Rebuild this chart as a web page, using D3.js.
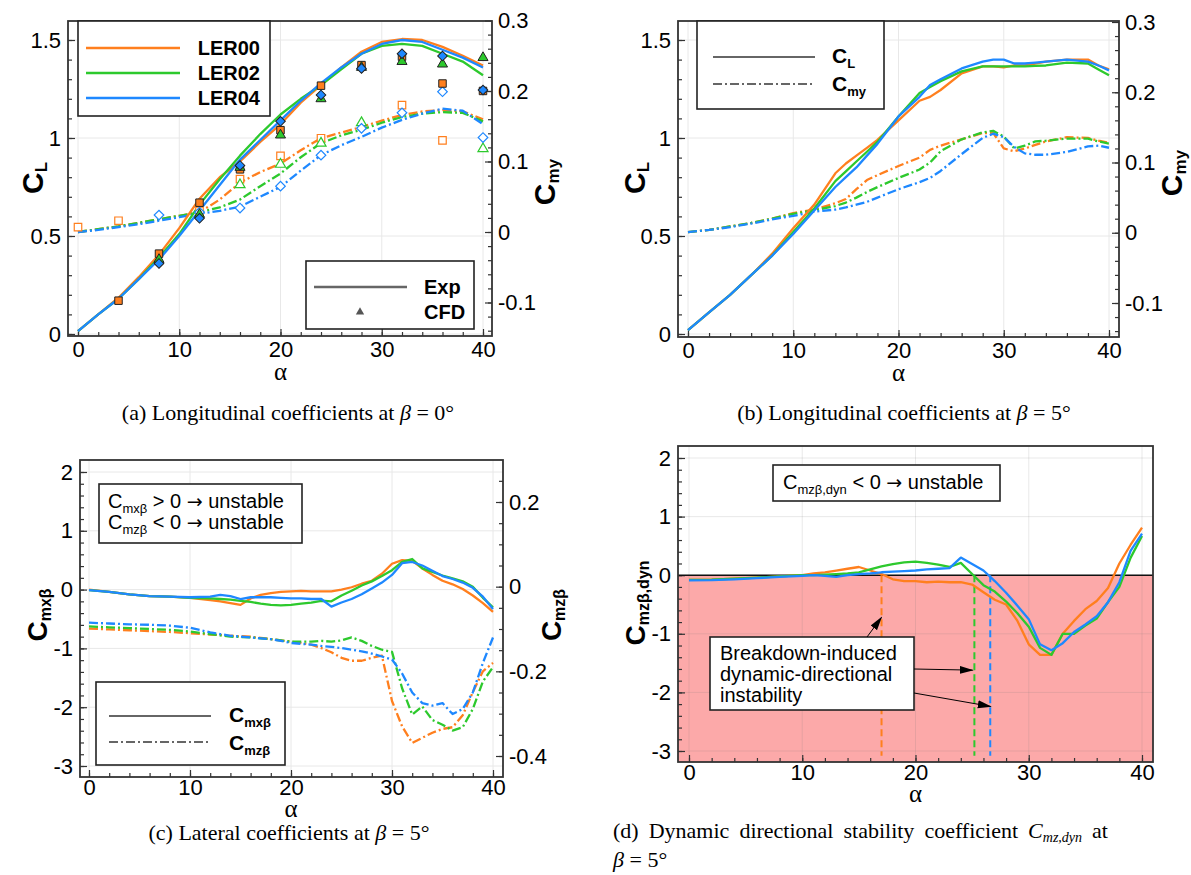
<!DOCTYPE html>
<html>
<head>
<meta charset="utf-8">
<script src="https://cdn.jsdelivr.net/npm/d3@7"></script>
<style>
  body { margin: 0; background: #fff; }
</style>
</head>
<body>
<script>
// colours of the three configurations
const lerNames = ['LER00', 'LER02', 'LER04'];
const lerColors = ['#ff7f1e', '#2dc92d', '#1e88ff'];

// ---- (a) beta = 0 : experiment
const alphaA = [0,2,4,6,8,10,12,14,16,18,20,22,24,26,28,30,32,34,36,38,40];
const clA00 = [0.015,0.10,0.185,0.29,0.405,0.54,0.69,0.80,0.88,0.98,1.07,1.18,1.27,1.36,1.44,1.49,1.505,1.50,1.465,1.42,1.37];
const clA02 = [0.015,0.10,0.18,0.28,0.39,0.51,0.66,0.79,0.91,1.02,1.12,1.20,1.27,1.35,1.43,1.47,1.48,1.47,1.43,1.39,1.32];
const clA04 = [0.015,0.10,0.18,0.28,0.38,0.50,0.63,0.76,0.89,0.99,1.09,1.19,1.28,1.36,1.43,1.48,1.50,1.49,1.45,1.41,1.36];
const cmyA00 = [0.0,0.004,0.008,0.013,0.018,0.023,0.028,0.046,0.07,0.085,0.097,0.116,0.133,0.141,0.149,0.158,0.166,0.171,0.173,0.171,0.160];
const cmyA02 = [0.0,0.004,0.008,0.013,0.018,0.023,0.028,0.035,0.046,0.065,0.083,0.106,0.126,0.137,0.145,0.155,0.163,0.168,0.170,0.169,0.157];
const cmyA04 = [0.0,0.003,0.007,0.011,0.016,0.021,0.026,0.030,0.036,0.050,0.064,0.087,0.109,0.123,0.135,0.148,0.159,0.168,0.175,0.172,0.153];
// (a) CFD points
const cfdAlphaA = [4,8,12,16,20,24,28,32,36,40];
const cfdClA00 = [0.17,0.41,0.67,0.84,1.04,1.267,1.372,1.415,1.278,1.24];
const cfdClA02 = [null,0.38,0.61,0.85,1.015,1.20,1.36,1.39,1.377,1.41];
const cfdClA04 = [null,0.36,0.59,0.86,1.085,1.22,1.355,1.43,1.418,1.245];
const cfdAlphaCmyA = [0,4,8,12,16,20,24,28,32,36,40];
const cfdCmyA00 = [0.007,0.016,null,0.03,0.075,0.108,0.133,null,0.18,0.13,null];
const cfdCmyA02 = [null,null,null,null,0.067,0.096,0.126,0.155,null,null,0.118];
const cfdCmyA04 = [null,null,0.024,0.028,0.034,0.065,0.109,0.147,0.169,0.199,0.134];

// ---- (b) beta = 5 longitudinal
const alphaB = [0,2,4,6,8,10,12,14,15,16,17,18,20,22,23,24,26,28,29,30,31,32,33,34,36,38,39,40];
const clB00 = [0.02,0.11,0.2,0.3,0.41,0.54,0.66,0.82,0.87,0.91,0.95,0.99,1.09,1.19,1.21,1.245,1.33,1.365,1.365,1.36,1.37,1.37,1.38,1.39,1.40,1.40,1.37,1.35];
const clB02 = [0.02,0.11,0.2,0.3,0.40,0.52,0.64,0.78,0.83,0.88,0.93,0.98,1.11,1.23,1.26,1.29,1.34,1.365,1.365,1.365,1.365,1.365,1.368,1.37,1.385,1.38,1.35,1.32];
const clB04 = [0.02,0.11,0.2,0.3,0.40,0.51,0.63,0.75,0.80,0.85,0.91,0.97,1.11,1.21,1.27,1.30,1.355,1.39,1.40,1.40,1.38,1.38,1.385,1.39,1.40,1.39,1.37,1.345];
const cmyB00 = [0.001,0.004,0.009,0.014,0.02,0.028,0.033,0.042,0.048,0.062,0.075,0.082,0.095,0.107,0.118,0.124,0.133,0.142,0.142,0.12,0.116,0.12,0.125,0.13,0.136,0.135,0.131,0.128];
const cmyB02 = [0.001,0.004,0.009,0.014,0.02,0.027,0.032,0.038,0.043,0.05,0.058,0.065,0.078,0.09,0.10,0.116,0.133,0.143,0.145,0.137,0.12,0.124,0.13,0.131,0.134,0.134,0.130,0.127];
const cmyB04 = [0.001,0.004,0.008,0.013,0.019,0.024,0.03,0.033,0.036,0.04,0.044,0.05,0.062,0.072,0.078,0.088,0.112,0.135,0.141,0.136,0.122,0.113,0.111,0.111,0.115,0.123,0.124,0.121];

// ---- (c) beta = 5 lateral
const alphaC = [0,2,4,6,8,10,12,13,14,15,16,17,18,19,20,21,22,23,24,25,26,27,28,29,30,31,32,33,34,35,36,37,38,39,40];
const cmxC00 = [0,-0.04,-0.08,-0.11,-0.12,-0.14,-0.18,-0.20,-0.23,-0.26,-0.15,-0.09,-0.06,-0.04,-0.03,-0.02,-0.03,-0.03,-0.03,0.0,0.04,0.10,0.15,0.27,0.44,0.50,0.49,0.36,0.25,0.15,0.09,0.01,-0.10,-0.23,-0.38];
const cmxC02 = [-0.01,-0.04,-0.08,-0.11,-0.12,-0.14,-0.15,-0.16,-0.17,-0.19,-0.21,-0.24,-0.26,-0.27,-0.26,-0.24,-0.22,-0.19,-0.20,-0.10,-0.02,0.07,0.14,0.23,0.33,0.47,0.52,0.36,0.30,0.24,0.19,0.14,0.05,-0.14,-0.30];
const cmxC04 = [-0.01,-0.04,-0.08,-0.11,-0.12,-0.13,-0.12,-0.09,-0.11,-0.16,-0.13,-0.13,-0.13,-0.14,-0.15,-0.15,-0.16,-0.16,-0.29,-0.22,-0.16,-0.08,0.02,0.12,0.25,0.45,0.47,0.41,0.32,0.23,0.18,0.12,0.03,-0.12,-0.33];
const cmzC00 = [-0.099,-0.101,-0.103,-0.105,-0.107,-0.11,-0.113,-0.114,-0.116,-0.117,-0.118,-0.121,-0.124,-0.127,-0.13,-0.133,-0.137,-0.145,-0.155,-0.168,-0.175,-0.175,-0.168,-0.163,-0.27,-0.33,-0.369,-0.357,-0.345,-0.336,-0.332,-0.304,-0.249,-0.2,-0.18];
const cmzC02 = [-0.094,-0.096,-0.098,-0.1,-0.102,-0.106,-0.112,-0.115,-0.118,-0.119,-0.12,-0.122,-0.124,-0.127,-0.13,-0.13,-0.13,-0.128,-0.13,-0.127,-0.12,-0.128,-0.14,-0.149,-0.154,-0.24,-0.302,-0.283,-0.315,-0.326,-0.34,-0.332,-0.289,-0.224,-0.19];
const cmzC04 = [-0.085,-0.087,-0.089,-0.09,-0.092,-0.097,-0.108,-0.112,-0.116,-0.118,-0.12,-0.122,-0.124,-0.128,-0.133,-0.135,-0.137,-0.14,-0.142,-0.145,-0.149,-0.153,-0.158,-0.165,-0.172,-0.205,-0.25,-0.275,-0.281,-0.275,-0.301,-0.289,-0.25,-0.18,-0.12];

// ---- (d) dynamic directional stability
const alphaD = [0,2,4,6,8,10,11,12,13,14,15,16,17,18,19,20,21,22,23,24,25,26,27,28,29,30,31,32,33,34,35,36,37,38,39,40];
const cdynD00 = [-0.08,-0.075,-0.06,-0.04,-0.02,0.0,0.03,0.05,0.08,0.11,0.14,0.08,0.02,-0.07,-0.10,-0.10,-0.12,-0.11,-0.12,-0.12,-0.16,-0.29,-0.42,-0.50,-0.78,-1.18,-1.36,-1.36,-1.00,-0.78,-0.58,-0.44,-0.22,0.20,0.52,0.81];
const cdynD02 = [-0.08,-0.075,-0.06,-0.04,-0.02,0.0,0.0,0.01,0.02,0.03,0.05,0.10,0.15,0.19,0.22,0.23,0.21,0.18,0.14,0.21,0.02,-0.17,-0.28,-0.45,-0.65,-0.88,-1.24,-1.36,-1.00,-1.00,-0.86,-0.74,-0.46,-0.20,0.30,0.67];
const cdynD04 = [-0.09,-0.085,-0.07,-0.05,-0.03,-0.01,0.0,-0.01,-0.03,0.0,0.02,0.03,0.05,0.06,0.07,0.08,0.10,0.11,0.12,0.30,0.19,0.08,-0.10,-0.30,-0.52,-0.75,-1.18,-1.28,-1.16,-0.97,-0.84,-0.70,-0.46,-0.12,0.42,0.71];
const onsetD = [17.0, 25.2, 26.6];   // zero crossings -> breakdown-induced instability

// x ticks shared by all panels
const alphaTicks = [0, 10, 20, 30, 40];

const sans = '"Liberation Sans", Arial, sans-serif';
const serif = '"Liberation Serif", "Times New Roman", serif';
const arrowFont = '"DejaVu Sans", sans-serif';

const svg = d3.select('body').append('svg')
    .attr('width', 1191)
    .attr('height', 875)
    .attr('font-family', sans);
const defs = svg.append('defs');
defs.append('marker')
    .attr('id', 'arrowhead')
    .attr('markerUnits', 'userSpaceOnUse')
    .attr('markerWidth', 14).attr('markerHeight', 10)
    .attr('refX', 13).attr('refY', 4)
    .attr('orient', 'auto')
    .append('path')
    .attr('d', 'M0,0 L14,4 L0,8 Z')
    .attr('fill', '#000');

const dashDot = '9,3,2,3';

// text with subscript parts: [text, size, dy, weight, style, family]
function rich(sel, parts) {
    parts.forEach(p => {
        const t = sel.append('tspan')
            .attr('font-size', p[1])
            .attr('dy', p[2] || 0)
            .text(p[0]);
        if (p[3]) t.attr('font-weight', p[3]);
        if (p[4]) t.attr('font-style', p[4]);
        if (p[5]) t.attr('font-family', p[5]);
    });
    return sel;
}

function zip(xs, ys) {
    return xs.map((a, i) => [a, ys[i]]).filter(d => d[1] != null);
}

function panel(o) {
    const g = svg.append('g');
    const f = o.frame;
    const x = d3.scaleLinear().domain([0, 40]).range(o.xr);
    const y = d3.scaleLinear().domain(o.yd).range(o.yr);
    const y2 = o.y2d ? d3.scaleLinear().domain(o.y2d).range(o.y2r) : null;

    defs.append('clipPath').attr('id', 'clip' + o.name)
        .append('rect')
        .attr('x', f[0]).attr('y', f[1])
        .attr('width', f[2] - f[0]).attr('height', f[3] - f[1]);

    // optional background fill (unstable region)
    if (o.fillBelowZero) {
        g.append('rect')
            .attr('x', f[0]).attr('y', y(0))
            .attr('width', f[2] - f[0]).attr('height', f[3] - y(0))
            .attr('fill', '#fca9a9');
    }

    // grid
    const grid = g.append('g').attr('stroke', o.fillBelowZero ? 'rgba(120,120,120,0.16)' : '#e8e8e8').attr('stroke-width', 1);
    grid.selectAll('.gx').data(alphaTicks).enter().append('line')
        .attr('x1', d => x(d)).attr('x2', d => x(d))
        .attr('y1', f[1]).attr('y2', f[3]);
    grid.selectAll('.gy').data(o.yMajor).enter().append('line')
        .attr('x1', f[0]).attr('x2', f[2])
        .attr('y1', d => y(d)).attr('y2', d => y(d));

    // axes (ticks pointing inward)
    function styleAxis(sel) {
        sel.select('.domain').remove();
        sel.attr('font-size', 22).attr('font-family', sans);
        sel.selectAll('.tick line').attr('stroke', '#333').attr('stroke-width', 1.2);
        sel.selectAll('.tick text').attr('fill', '#000');
    }
    const visible = (sc, lo, hi) => v => sc(v) < Math.max(lo, hi) - 1.5 && sc(v) > Math.min(lo, hi) + 1.5;
    const minorVals = (sc, step) => {
        const d = [sc.invert(f[3]), sc.invert(f[1])].sort((a, b) => a - b);
        const start = Math.ceil(d[0] / step - 1e-6) * step;
        return d3.range(start, d[1], step).map(v => +v.toFixed(4)).filter(visible(sc, f[1], f[3]));
    };

    g.append('g').attr('transform', `translate(0,${f[3]})`)
        .call(d3.axisBottom(x).tickValues(d3.range(0, 41, 2)).tickSize(-4).tickFormat(''))
        .call(styleAxis);
    g.append('g').attr('transform', `translate(0,${f[3]})`)
        .call(d3.axisBottom(x).tickValues(alphaTicks).tickSize(-7).tickPadding(o.xPad))
        .call(styleAxis);

    g.append('g').attr('transform', `translate(${f[0]},0)`)
        .call(d3.axisLeft(y).tickValues(minorVals(y, o.yMinor)).tickSize(-4).tickFormat(''))
        .call(styleAxis);
    g.append('g').attr('transform', `translate(${f[0]},0)`)
        .call(d3.axisLeft(y).tickValues(o.yMajor).tickSize(-7).tickPadding(7).tickFormat(d => String(d)))
        .call(styleAxis);

    if (y2) {
        g.append('g').attr('transform', `translate(${f[2]},0)`)
            .call(d3.axisRight(y2).tickValues(minorVals(y2, o.y2Minor)).tickSize(-4).tickFormat(''))
            .call(styleAxis);
        g.append('g').attr('transform', `translate(${f[2]},0)`)
            .call(d3.axisRight(y2).tickValues(o.y2Major).tickSize(-7).tickPadding(6).tickFormat(d => String(d)))
            .call(styleAxis);
    }

    const plot = g.append('g').attr('clip-path', `url(#clip${o.name})`);

    // alpha label
    g.append('text')
        .attr('x', x(20)).attr('y', f[3] + o.alphaDy)
        .attr('text-anchor', 'middle')
        .attr('font-family', serif)
        .attr('font-size', 25)
        .text('α');

    return { g, plot, x, y, y2, f };
}

function drawFrame(p) {
    p.g.append('rect')
        .attr('x', p.f[0]).attr('y', p.f[1])
        .attr('width', p.f[2] - p.f[0]).attr('height', p.f[3] - p.f[1])
        .attr('fill', 'none').attr('stroke', '#333').attr('stroke-width', 1.8);
}

function curve(p, sy, xs, ys, color, dash) {
    const line = d3.line().x(d => p.x(d[0])).y(d => sy(d[1]));
    p.plot.append('path')
        .datum(zip(xs, ys))
        .attr('d', line)
        .attr('fill', 'none')
        .attr('stroke', color)
        .attr('stroke-width', 2.3)
        .attr('stroke-linejoin', 'round')
        .attr('stroke-dasharray', dash || null);
}

function yTitle(x, y, parts) {
    const t = svg.append('text')
        .attr('transform', `translate(${x},${y}) rotate(-90)`)
        .attr('text-anchor', 'middle')
        .attr('font-weight', 'bold');
    rich(t, parts);
}

function legendBox(g, x0, y0, x1, y1) {
    g.append('rect')
        .attr('x', x0).attr('y', y0)
        .attr('width', x1 - x0).attr('height', y1 - y0)
        .attr('fill', '#fff').attr('stroke', '#222').attr('stroke-width', 1.6);
}

// ================= panel (a)
const pa = panel({
    name: 'a', frame: [68, 21, 492, 336], xr: [78, 483], xPad: 5, alphaDy: 44,
    yd: [0, 1.5], yr: [334, 40], yMajor: [0, 0.5, 1, 1.5], yMinor: 0.1,
    y2d: [-0.1, 0.3], y2r: [302.5, 20.5], y2Major: [-0.1, 0, 0.1, 0.2, 0.3], y2Minor: 0.02
});
const clA = [clA00, clA02, clA04], cmyA = [cmyA00, cmyA02, cmyA04];
const cfdClA = [cfdClA00, cfdClA02, cfdClA04], cfdCmyA = [cfdCmyA00, cfdCmyA02, cfdCmyA04];
const symbolsA = [d3.symbolSquare, d3.symbolTriangle, d3.symbolSquare];
const symSize = [56, 44, 46];
const symRot = [0, 0, 45];
[0, 1, 2].forEach(i => curve(pa, pa.y2, alphaA, cmyA[i], lerColors[i], dashDot));
[0, 1, 2].forEach(i => curve(pa, pa.y, alphaA, clA[i], lerColors[i]));
[0, 1, 2].forEach(i => {
    pa.plot.selectAll('.open' + i)
        .data(zip(cfdAlphaCmyA, cfdCmyA[i])).enter().append('path')
        .attr('d', d3.symbol().type(symbolsA[i]).size(symSize[i]))
        .attr('transform', d => `translate(${pa.x(d[0])},${pa.y2(d[1])}) rotate(${symRot[i]})`)
        .attr('fill', '#fff').attr('stroke', lerColors[i]).attr('stroke-width', 1.2);
});
[0, 1, 2].forEach(i => {
    pa.plot.selectAll('.fill' + i)
        .data(zip(cfdAlphaA, cfdClA[i])).enter().append('path')
        .attr('d', d3.symbol().type(symbolsA[i]).size(symSize[i]))
        .attr('transform', d => `translate(${pa.x(d[0])},${pa.y(d[1])}) rotate(${symRot[i]})`)
        .attr('fill', lerColors[i]).attr('stroke', '#222').attr('stroke-width', 1);
});
drawFrame(pa);
// LER legend
legendBox(pa.g, 78, 21, 270, 116);
lerNames.forEach((n, i) => {
    const yy = 48 + i * 25;
    pa.g.append('line').attr('x1', 86).attr('x2', 180).attr('y1', yy).attr('y2', yy)
        .attr('stroke', lerColors[i]).attr('stroke-width', 2.5);
    pa.g.append('text').attr('x', 260).attr('y', yy + 7).attr('text-anchor', 'end')
        .attr('font-size', 20).attr('font-weight', 'bold').text(n);
});
// Exp / CFD legend
legendBox(pa.g, 306, 261, 474, 329);
pa.g.append('line').attr('x1', 314).attr('x2', 407).attr('y1', 287).attr('y2', 287)
    .attr('stroke', '#666').attr('stroke-width', 2.5);
pa.g.append('path').attr('d', d3.symbol().type(d3.symbolTriangle).size(30))
    .attr('transform', 'translate(360,312)').attr('fill', '#555');
pa.g.append('text').attr('x', 424).attr('y', 294).attr('font-size', 20).attr('font-weight', 'bold').text('Exp');
pa.g.append('text').attr('x', 424).attr('y', 319).attr('font-size', 20).attr('font-weight', 'bold').text('CFD');
yTitle(43, 178, [['C', 30], ['L', 17, 4]]);
yTitle(555, 182, [['C', 30], ['my', 17, 4]]);

// ================= panel (b)
const pb = panel({
    name: 'b', frame: [678, 21, 1119, 337], xr: [688, 1109], xPad: 5, alphaDy: 44,
    yd: [0, 1.5], yr: [334, 40], yMajor: [0, 0.5, 1, 1.5], yMinor: 0.1,
    y2d: [-0.1, 0.3], y2r: [303, 22], y2Major: [-0.1, 0, 0.1, 0.2, 0.3], y2Minor: 0.02
});
const clB = [clB00, clB02, clB04], cmyB = [cmyB00, cmyB02, cmyB04];
[0, 1, 2].forEach(i => curve(pb, pb.y2, alphaB, cmyB[i], lerColors[i], dashDot));
[0, 1, 2].forEach(i => curve(pb, pb.y, alphaB, clB[i], lerColors[i]));
drawFrame(pb);
legendBox(pb.g, 697, 21, 884, 109);
pb.g.append('line').attr('x1', 713).attr('x2', 815).attr('y1', 57).attr('y2', 57)
    .attr('stroke', '#666').attr('stroke-width', 2);
pb.g.append('line').attr('x1', 713).attr('x2', 815).attr('y1', 84).attr('y2', 84)
    .attr('stroke', '#666').attr('stroke-width', 2).attr('stroke-dasharray', dashDot);
rich(pb.g.append('text').attr('x', 832).attr('y', 63).attr('font-weight', 'bold'), [['C', 21], ['L', 13, 5]]);
rich(pb.g.append('text').attr('x', 832).attr('y', 91).attr('font-weight', 'bold'), [['C', 21], ['my', 13, 5]]);
yTitle(645, 178, [['C', 30], ['L', 17, 4]]);
yTitle(1182, 173, [['C', 30], ['my', 17, 4]]);

// ================= panel (c)
const pc = panel({
    name: 'c', frame: [80, 460, 503, 777], xr: [89, 493], xPad: 2, alphaDy: 40,
    yd: [-3, 2], yr: [766, 472], yMajor: [-3, -2, -1, 0, 1, 2], yMinor: 0.2,
    y2d: [-0.4, 0.2], y2r: [756, 502], y2Major: [-0.4, -0.2, 0, 0.2], y2Minor: 0.05
});
const cmxC = [cmxC00, cmxC02, cmxC04], cmzC = [cmzC00, cmzC02, cmzC04];
[0, 1, 2].forEach(i => curve(pc, pc.y2, alphaC, cmzC[i], lerColors[i], dashDot));
[0, 1, 2].forEach(i => curve(pc, pc.y, alphaC, cmxC[i], lerColors[i]));
drawFrame(pc);
legendBox(pc.g, 99, 484, 302, 543);
rich(pc.g.append('text').attr('x', 108).attr('y', 508),
    [['C', 20], ['mxβ', 13, 5], [' > 0 ', 20, -5], ['→', 19, 0, null, null, arrowFont], [' unstable', 20]]);
rich(pc.g.append('text').attr('x', 108).attr('y', 529),
    [['C', 20], ['mzβ', 13, 5], [' < 0 ', 20, -5], ['→', 19, 0, null, null, arrowFont], [' unstable', 20]]);
legendBox(pc.g, 96, 682, 285, 765);
pc.g.append('line').attr('x1', 109).attr('x2', 211).attr('y1', 716).attr('y2', 716)
    .attr('stroke', '#666').attr('stroke-width', 2);
pc.g.append('line').attr('x1', 109).attr('x2', 211).attr('y1', 742).attr('y2', 742)
    .attr('stroke', '#666').attr('stroke-width', 2).attr('stroke-dasharray', dashDot);
rich(pc.g.append('text').attr('x', 229).attr('y', 722).attr('font-weight', 'bold'), [['C', 21], ['mxβ', 13, 5]]);
rich(pc.g.append('text').attr('x', 229).attr('y', 750).attr('font-weight', 'bold'), [['C', 21], ['mzβ', 13, 5]]);
yTitle(47, 615, [['C', 28], ['mxβ', 16, 4]]);
yTitle(561, 615, [['C', 28], ['mzβ', 16, 4]]);

// ================= panel (d)
const pd = panel({
    name: 'd', frame: [678, 446, 1153, 762], xr: [689, 1142], xPad: 2, alphaDy: 40,
    yd: [-3, 2], yr: [751, 458], yMajor: [-3, -2, -1, 0, 1, 2], yMinor: 0.2,
    fillBelowZero: true
});
pd.plot.append('line')
    .attr('x1', pd.f[0]).attr('x2', pd.f[2])
    .attr('y1', pd.y(0)).attr('y2', pd.y(0))
    .attr('stroke', '#111').attr('stroke-width', 1.6);
const cdynD = [cdynD00, cdynD02, cdynD04];
[0, 1, 2].forEach(i => {
    pd.plot.append('line')
        .attr('x1', pd.x(onsetD[i])).attr('x2', pd.x(onsetD[i]))
        .attr('y1', pd.y(0)).attr('y2', pd.y(-3.08))
        .attr('stroke', lerColors[i]).attr('stroke-width', 2)
        .attr('stroke-dasharray', '7,4');
});
[0, 1, 2].forEach(i => curve(pd, pd.y, alphaD, cdynD[i], lerColors[i]));
drawFrame(pd);
legendBox(pd.g, 773, 465, 1000, 501);
rich(pd.g.append('text').attr('x', 783).attr('y', 489),
    [['C', 20], ['mzβ,dyn', 13, 5], [' < 0 ', 20, -5], ['→', 19, 0, null, null, arrowFont], [' unstable', 20]]);
// annotation
legendBox(pd.g, 710, 637, 914, 710);
['Breakdown-induced', 'dynamic-directional', 'instability'].forEach((t, i) => {
    pd.g.append('text').attr('x', 720).attr('y', 660 + i * 21).attr('font-size', 20).text(t);
});
const arrows = [
    [867, 637, onsetD[0], -0.72],
    [914, 669, onsetD[1] - 0.15, -1.62],
    [914, 693, onsetD[2] + 0.05, -2.24]
];
arrows.forEach(a => {
    pd.g.append('line')
        .attr('x1', a[0]).attr('y1', a[1])
        .attr('x2', pd.x(a[2])).attr('y2', pd.y(a[3]))
        .attr('stroke', '#000').attr('stroke-width', 1)
        .attr('marker-end', 'url(#arrowhead)');
});
yTitle(645, 603, [['C', 28], ['mzβ,dyn', 16, 4]]);

// ================= captions
const capSize = 22;
function caption(cx, y, label, beta) {
    const t = svg.append('text').attr('x', cx).attr('y', y)
        .attr('text-anchor', 'middle').attr('font-family', serif);
    rich(t, [[label + ' ', capSize], ['β', capSize, 0, null, 'italic'], [' = ' + beta + '°', capSize]]);
}
caption(288, 420, '(a) Longitudinal coefficients at', 0);
caption(904, 420, '(b) Longitudinal coefficients at', 5);
caption(289, 840, '(c) Lateral coefficients at', 5);

// (d) caption, first line justified between 613 and 1108
const capWords = [
    [['(d)', capSize]], [['Dynamic', capSize]], [['directional', capSize]], [['stability', capSize]],
    [['coefficient', capSize]],
    [['C', capSize, 0, null, 'italic'], ['mz,dyn', 14, 4, null, 'italic']], [['at', capSize]]
];
const wordEls = capWords.map(parts => rich(svg.append('text').attr('y', 838)
    .attr('font-family', serif), parts));
const widths = wordEls.map(w => w.node().getComputedTextLength());
const gap = (1108 - 613 - d3.sum(widths)) / (wordEls.length - 1);
let cursor = 613;
wordEls.forEach((w, i) => { w.attr('x', cursor); cursor += widths[i] + gap; });
rich(svg.append('text').attr('x', 613).attr('y', 867).attr('font-family', serif),
    [['β', capSize, 0, null, 'italic'], [' = 5°', capSize]]);
</script>
</body>
</html>
